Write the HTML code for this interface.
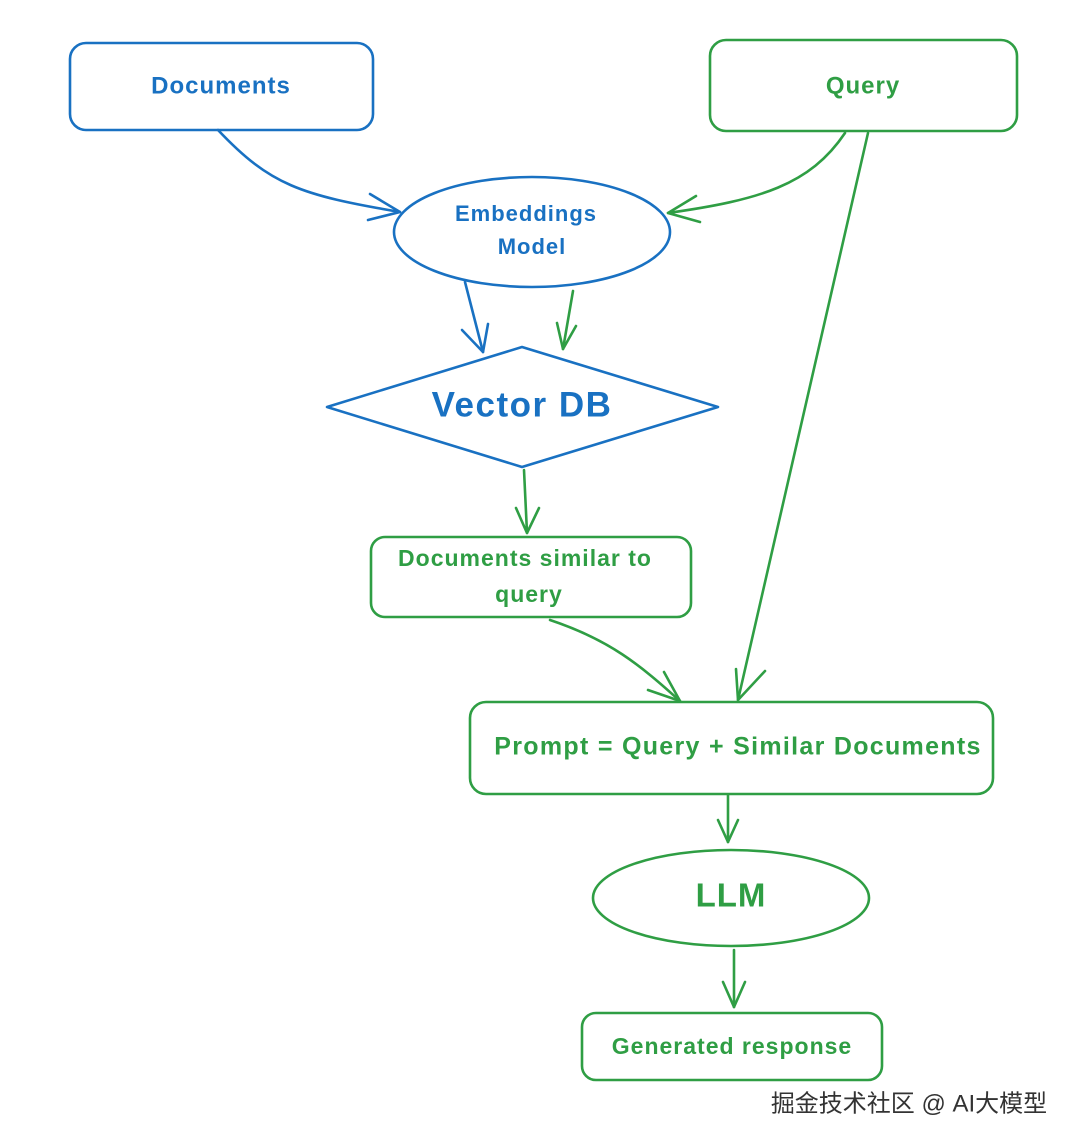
<!DOCTYPE html>
<html><head><meta charset="utf-8"><style>
html,body{margin:0;padding:0;background:#fff;}
svg{display:block}
text{font-family:"Liberation Sans","Noto Sans CJK SC",sans-serif;text-anchor:middle;dominant-baseline:middle;font-weight:bold}
</style></head><body>
<svg width="1080" height="1148" viewBox="0 0 1080 1148" xmlns="http://www.w3.org/2000/svg">
<g fill="none" stroke-width="2.6" stroke-linecap="round" stroke-linejoin="round">
<g stroke="#1971c2">
<rect x="70" y="43" width="303" height="87" rx="16"/>
<ellipse cx="532" cy="232" rx="138" ry="55"/>
<polygon points="327,407 522,347 718,407 522,467"/>
<path d="M218,130 C270,185 300,195 400,212"/>
<path d="M370,194 L400,212 L368,220"/>
<path d="M465,282 L483,352"/>
<path d="M462,330 L483,352 L488,324"/>
</g>
<g stroke="#2f9e44">
<rect x="710" y="40" width="307" height="91" rx="16"/>
<path d="M845,133 C810,185 760,200 668,213"/>
<path d="M696,196 L668,213 L700,222"/>
<path d="M573,291 L563,349"/>
<path d="M557,323 L563,349 L576,326"/>
<path d="M524,470 L527,533"/>
<path d="M516,508 L527,533 L539,508"/>
<rect x="371" y="537" width="320" height="80" rx="14"/>
<path d="M550,620 C610,640 640,665 680,701"/>
<path d="M648,690 L680,701 L664,672"/>
<path d="M868,133 L738,700"/>
<path d="M736,669 L738,700 L765,671"/>
<rect x="470" y="702" width="523" height="92" rx="16"/>
<path d="M728,795 L728,842"/>
<path d="M718,820 L728,842 L738,820"/>
<ellipse cx="731" cy="898" rx="138" ry="48"/>
<path d="M734,950 L734,1007"/>
<path d="M723,982 L734,1007 L745,982"/>
<rect x="582" y="1013" width="300" height="67" rx="14"/>
</g>
</g>
<g fill="#1971c2">
<text x="221" y="87" font-size="24" letter-spacing="1">Documents</text>
<text x="526" y="215" font-size="22" letter-spacing="1">Embeddings</text>
<text x="532" y="248" font-size="22" letter-spacing="1">Model</text>
<text x="522" y="407" font-size="35" letter-spacing="1.5">Vector DB</text>
</g>
<g fill="#2f9e44">
<text x="863" y="87" font-size="24" letter-spacing="1">Query</text>
<text x="525" y="560" font-size="23" letter-spacing="1">Documents similar to</text>
<text x="529" y="596" font-size="23" letter-spacing="1">query</text>
<text x="738" y="748" font-size="25" letter-spacing="1.3">Prompt = Query + Similar Documents</text>
<text x="731" y="898" font-size="33" letter-spacing="1">LLM</text>
<text x="732" y="1048" font-size="23" letter-spacing="1">Generated response</text>
</g>
<text x="909" y="1105" font-size="24" fill="#333" style="font-weight:normal">掘金技术社区 @ AI大模型</text>
</svg>
</body></html>
